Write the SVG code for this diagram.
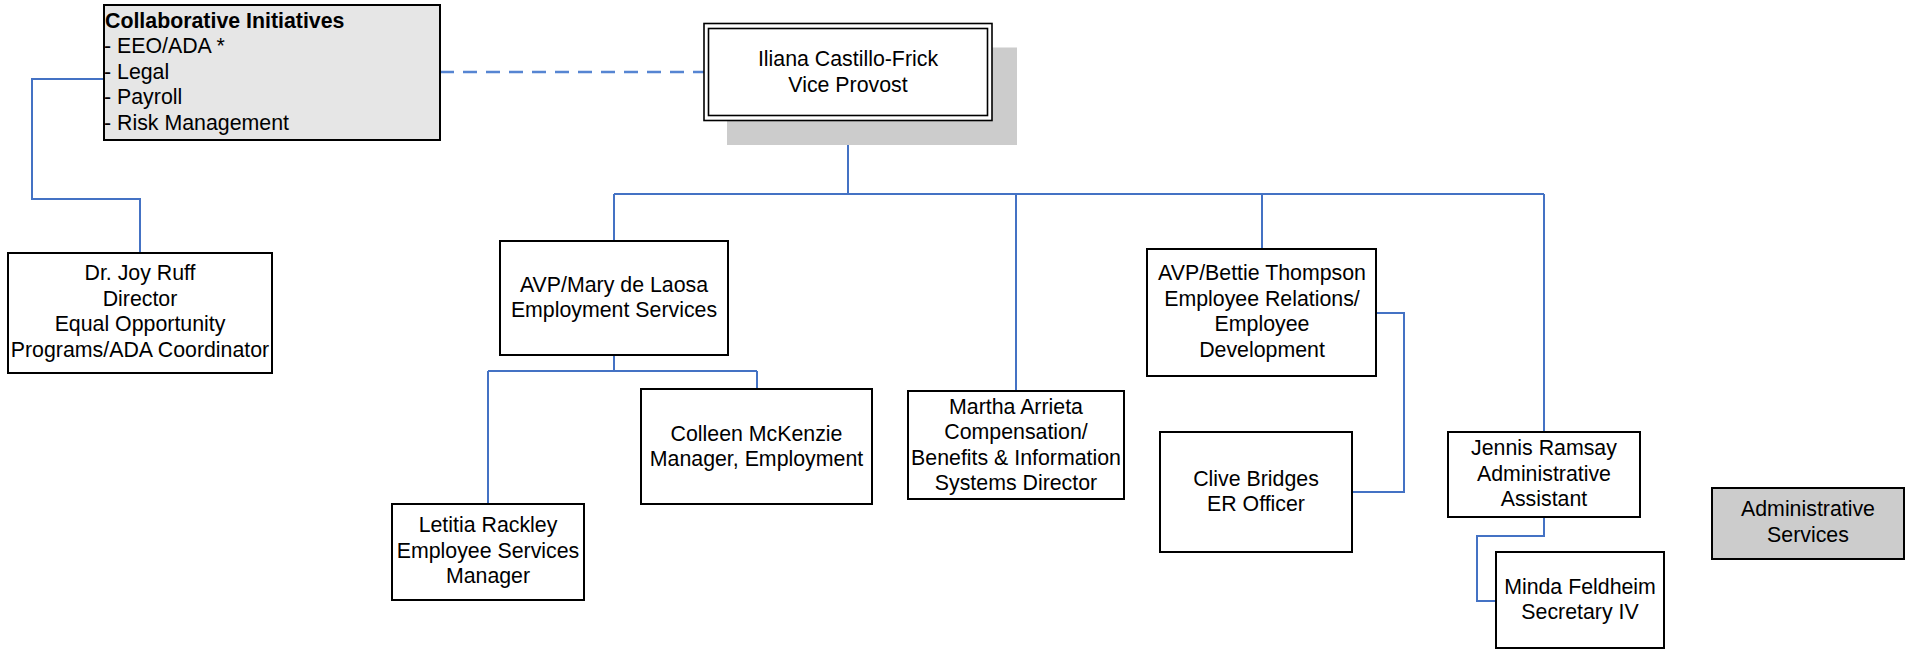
<svg xmlns="http://www.w3.org/2000/svg" width="1908" height="650" viewBox="0 0 1908 650">
<style>
.box{fill:#ffffff;stroke:#000000;stroke-width:2}
.t{font-family:"Liberation Sans",Arial,sans-serif;font-size:21.33px;fill:#000000;text-anchor:middle}
.tl{font-family:"Liberation Sans",Arial,sans-serif;font-size:21.33px;fill:#000000}
.c{fill:none;stroke:#4472c4;stroke-width:2}
.d{fill:none;stroke:#5685d2;stroke-width:2.5;stroke-dasharray:14,9}
</style>
<rect width="1908" height="650" fill="#ffffff"/>
<g id="connectors">
<path class="c" d="M104,79 H32 V199 H140 V253"/>
<path class="d" d="M440,72 H704"/>
<path class="c" d="M848,121 V194 M614,194 H1544 M614,194 V241 M1016,194 V391 M1262,194 V249 M1544,194 V432"/>
<path class="c" d="M614,355 V371 M488,371 H757 M488,371 V504 M757,371 V389"/>
<path class="c" d="M1376,313 H1404 V492 H1352"/>
<path class="c" d="M1544,517 V536 H1477 V601 H1496"/>
</g>
<g id="collab">
<rect x="104" y="5" width="336" height="135" fill="#e6e6e6" stroke="#000" stroke-width="2"/>
<text class="tl" x="105" y="27.5" font-weight="bold">Collaborative Initiatives</text>
<text class="tl" x="104" y="53">- EEO/ADA *</text>
<text class="tl" x="104" y="78.5">- Legal</text>
<text class="tl" x="104" y="104">- Payroll</text>
<text class="tl" x="104" y="129.5">- Risk Management</text>
</g>
<g id="vp">
<rect x="727" y="47.5" width="290" height="97.5" fill="#cccccc"/>
<rect x="704" y="23.5" width="288" height="97" fill="#ffffff" stroke="#000" stroke-width="1.6"/>
<rect x="708.5" y="28.5" width="279" height="87" fill="none" stroke="#000" stroke-width="1.6"/>
<text class="t" x="848" y="66">Iliana Castillo-Frick</text>
<text class="t" x="848" y="91.5">Vice Provost</text>
</g>
<g id="joy">
<rect class="box" x="8" y="253" width="264" height="120"/>
<text class="t" x="140" y="280">Dr. Joy Ruff</text>
<text class="t" x="140" y="305.5">Director</text>
<text class="t" x="140" y="331">Equal Opportunity</text>
<text class="t" x="140" y="356.5">Programs/ADA Coordinator</text>
</g>
<g id="mary">
<rect class="box" x="500" y="241" width="228" height="114"/>
<text class="t" x="614" y="291.5">AVP/Mary de Laosa</text>
<text class="t" x="614" y="317">Employment Services</text>
</g>
<g id="colleen">
<rect class="box" x="641" y="389" width="231" height="115"/>
<text class="t" x="756.5" y="440.5">Colleen McKenzie</text>
<text class="t" x="756.5" y="466">Manager, Employment</text>
</g>
<g id="letitia">
<rect class="box" x="392" y="504" width="192" height="96"/>
<text class="t" x="488" y="532">Letitia Rackley</text>
<text class="t" x="488" y="557.5">Employee Services</text>
<text class="t" x="488" y="583">Manager</text>
</g>
<g id="martha">
<rect class="box" x="908" y="391" width="216" height="108"/>
<text class="t" x="1016" y="413.5">Martha Arrieta</text>
<text class="t" x="1016" y="439">Compensation/</text>
<text class="t" x="1016" y="464.5">Benefits &amp; Information</text>
<text class="t" x="1016" y="490">Systems Director</text>
</g>
<g id="bettie">
<rect class="box" x="1147" y="249" width="229" height="127"/>
<text class="t" x="1262" y="280">AVP/Bettie Thompson</text>
<text class="t" x="1262" y="305.5">Employee Relations/</text>
<text class="t" x="1262" y="331">Employee</text>
<text class="t" x="1262" y="356.5">Development</text>
</g>
<g id="clive">
<rect class="box" x="1160" y="432" width="192" height="120"/>
<text class="t" x="1256" y="485.5">Clive Bridges</text>
<text class="t" x="1256" y="511">ER Officer</text>
</g>
<g id="jennis">
<rect class="box" x="1448" y="432" width="192" height="85"/>
<text class="t" x="1544" y="455">Jennis Ramsay</text>
<text class="t" x="1544" y="480.5">Administrative</text>
<text class="t" x="1544" y="506">Assistant</text>
</g>
<g id="minda">
<rect class="box" x="1496" y="552" width="168" height="96"/>
<text class="t" x="1580" y="593.5">Minda Feldheim</text>
<text class="t" x="1580" y="619">Secretary IV</text>
</g>
<g id="adminservices">
<rect x="1712" y="488" width="192" height="71" fill="#cccccc" stroke="#000" stroke-width="2"/>
<text class="t" x="1808" y="516">Administrative</text>
<text class="t" x="1808" y="541.5">Services</text>
</g>
</svg>
